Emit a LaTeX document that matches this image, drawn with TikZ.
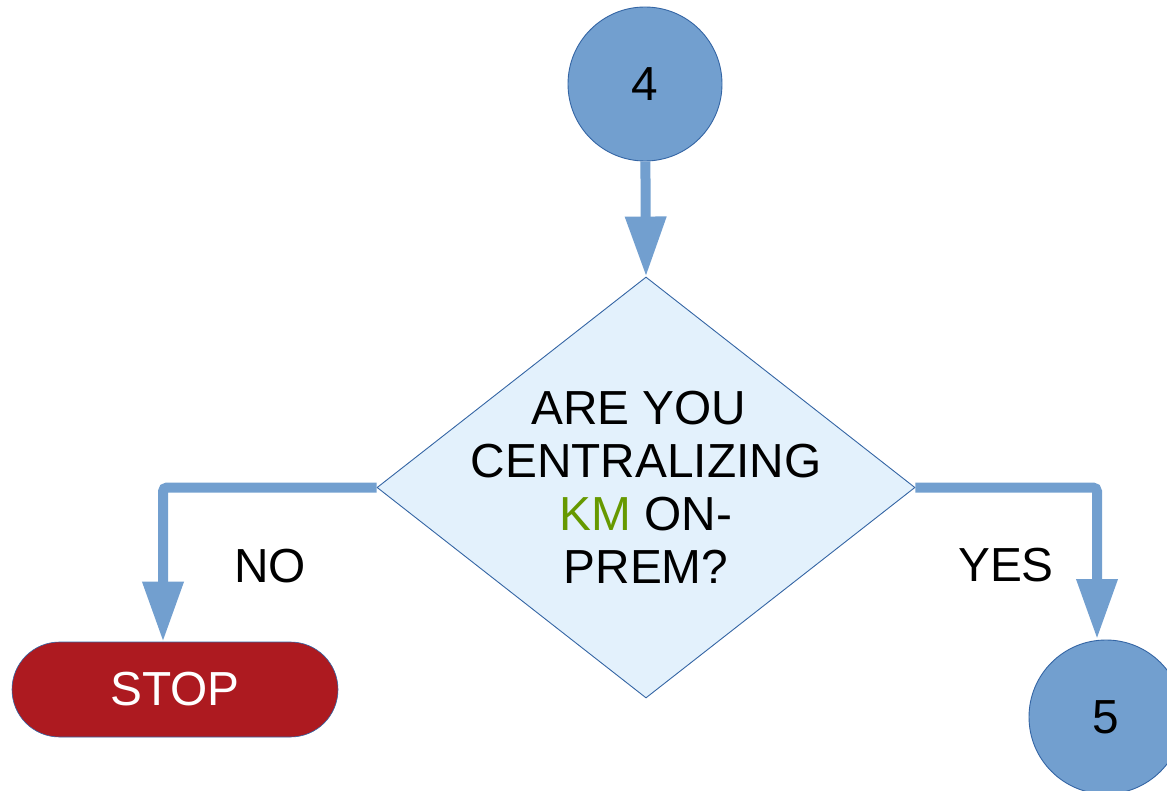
\documentclass[tikz,border=0pt]{standalone}
\usepackage{fontspec}
\setmainfont{Liberation Sans}
\usetikzlibrary{arrows.meta,shapes.geometric,shapes.misc}
\definecolor{skyblue}{HTML}{729FCF}
\definecolor{edgeblue}{HTML}{3465A4}
\definecolor{paleblue}{HTML}{E3F1FC}
\definecolor{stopred}{HTML}{AD1A20}
\definecolor{kmgreen}{HTML}{669900}
\tikzset{
  bigfont/.style={font=\fontsize{47.8}{53}\selectfont},
  circnode/.style={circle, fill=skyblue, draw=edgeblue, line width=0.9pt, minimum size=154pt, inner sep=0pt, bigfont},
  dianode/.style={diamond, fill=paleblue, draw=edgeblue, line width=0.9pt, minimum width=538pt, minimum height=421pt, inner sep=0pt},
  stopnode/.style={rounded rectangle, fill=stopred, draw=edgeblue, line width=0.6pt, minimum width=326pt, minimum height=95pt, inner sep=0pt, text=white, bigfont},
  conn/.style={draw=skyblue, line width=10pt, rounded corners=4pt, -{Triangle[width=39pt,length=60pt]}},
  lbl/.style={bigfont, inner sep=0pt}
}
\begin{document}
\begin{tikzpicture}[x=1pt,y=-1pt]
\useasboundingbox (0,0) rectangle (1167,791);
\node[circnode] (n4) at (645,84) {4};
\node[dianode, label={[bigfont, align=center, inner sep=0pt]center:ARE YOU\hspace*{0.3em}\\CENTRALIZING\\\textcolor{kmgreen}{KM} ON-\\PREM?}] (q) at (646,487.5) {};
\node[stopnode] (stop) at (175,689.5) {STOP};
\node[circnode] (n5) at (1106,717) {5};
\draw[conn] (n4) -- (q.north);
\draw[conn] (q.west) -| ([xshift=-12pt]stop.north);
\draw[conn] (q.east) -| ([xshift=-9pt,yshift=0.5pt]n5.north);
\node[lbl, anchor=base] (no) at (270,582) {NO};
\node[lbl, anchor=base] (yes) at (1006,581) {YES};
\end{tikzpicture}
\end{document}
